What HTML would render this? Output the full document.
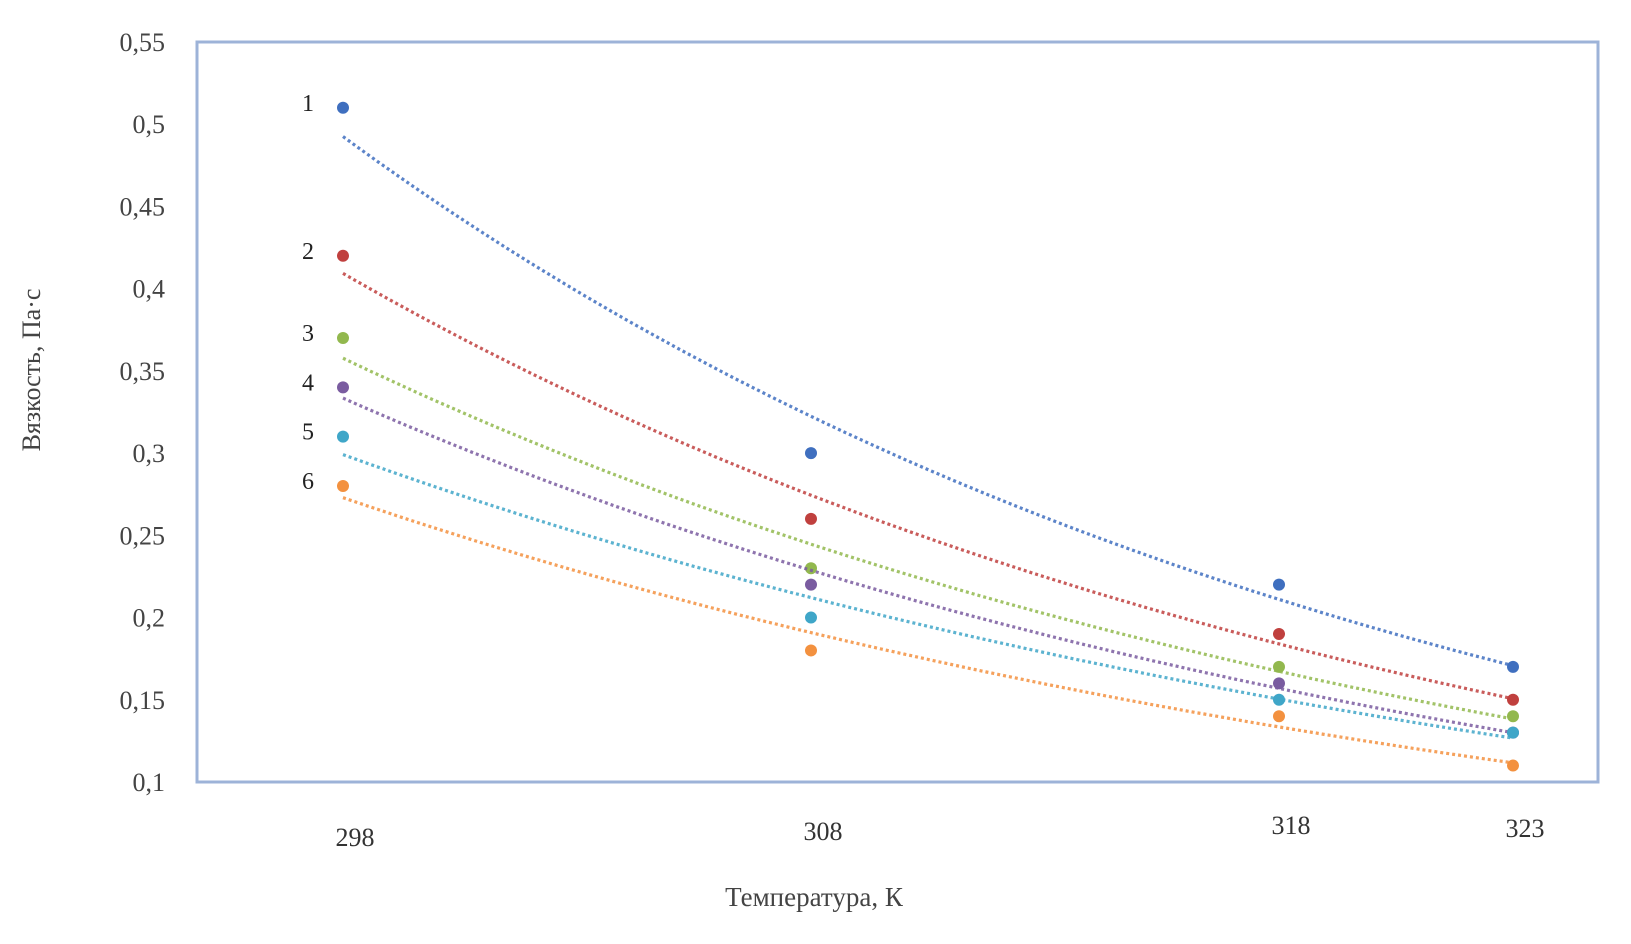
<!DOCTYPE html>
<html><head><meta charset="utf-8">
<style>
html,body{margin:0;padding:0;background:#fff;}
svg{display:block;font-family:"Liberation Serif",serif;}
</style></head>
<body>
<svg id="chart" width="1631" height="944" viewBox="0 0 1631 944">
<rect x="197" y="42" width="1401" height="740" fill="#fff" stroke="#9db3d8" stroke-width="3"/>
<g id="yticks"></g>
<g id="xticks"></g>
<g id="series"></g>
<text x="814" y="906" font-size="27" text-anchor="middle" fill="#444">Температура, К</text>
<text transform="translate(40,370) rotate(-90)" font-size="26" text-anchor="middle" fill="#444">Вязкость, Па·с</text>
</svg>
<script>
const temps = [298, 308, 318, 323];
const xLabels = ['298', '308', '318', '323'];
const yTicks = [0.1, 0.15, 0.2, 0.25, 0.3, 0.35, 0.4, 0.45, 0.5, 0.55];
const yTickLabels = ['0,1', '0,15', '0,2', '0,25', '0,3', '0,35', '0,4', '0,45', '0,5', '0,55'];
const seriesNames = ['1', '2', '3', '4', '5', '6'];
const s1 = [0.51, 0.30, 0.22, 0.17];
const s2 = [0.42, 0.26, 0.19, 0.15];
const s3 = [0.37, 0.23, 0.17, 0.14];
const s4 = [0.34, 0.22, 0.16, 0.13];
const s5 = [0.31, 0.20, 0.15, 0.13];
const s6 = [0.28, 0.18, 0.14, 0.11];
const allSeries = [s1, s2, s3, s4, s5, s6];
const colors = ['#3f6fbf', '#c0403e', '#92b84e', '#7a5ca0', '#3fa6c8', '#f3913f'];

const NS = 'http://www.w3.org/2000/svg';
function xScale(t){ return 343 + (t - 298) * 46.8; }
function yScale(v){ return 782 - (v - 0.1) / 0.45 * 740; }
function mk(tag, attrs, parent){ const e = document.createElementNS(NS, tag); for (const k in attrs) e.setAttribute(k, attrs[k]); parent.appendChild(e); return e; }

const yg = document.getElementById('yticks');
yTicks.forEach((v, i) => {
  const t = mk('text', {x: 165, y: yScale(v) + 9, 'font-size': 26, 'text-anchor': 'end', fill: '#444'}, yg);
  
  
  t.textContent = yTickLabels[i];
});
const xg = document.getElementById('xticks');
const xLabelY = [846, 840, 834, 837];
temps.forEach((t, i) => {
  const e = mk('text', {x: xScale(t) + 12, y: xLabelY[i], 'font-size': 26, 'text-anchor': 'middle', fill: '#333'}, xg);
  
  
  e.textContent = xLabels[i];
});

const sg = document.getElementById('series');
allSeries.forEach((vals, si) => {
  const g = mk('g', {}, sg);
  
  
  const n = temps.length;
  let sx = 0, sy = 0, sxx = 0, sxy = 0;
  temps.forEach((t, i) => { const ly = Math.log(vals[i]); sx += t; sy += ly; sxx += t * t; sxy += t * ly; });
  const b = (n * sxy - sx * sy) / (n * sxx - sx * sx);
  const a = (sy - b * sx) / n;
  let d = '';
  for (let T = temps[0]; T <= temps[n - 1] + 0.001; T += 0.25) {
    d += (d ? 'L' : 'M') + xScale(T).toFixed(1) + ',' + yScale(Math.exp(a + b * T)).toFixed(1);
  }
  const p = mk('path', {d: d, fill: 'none', stroke: colors[si], 'stroke-width': 3.2, 'stroke-dasharray': '3 3', opacity: 0.85}, g);
  
  
  vals.forEach((v, i) => {
    const c = mk('circle', {cx: xScale(temps[i]), cy: yScale(v), r: 6, fill: colors[si]}, g);
    
    
  });
  const lb = mk('text', {x: 308, y: yScale(vals[0]) + 3, 'font-size': 24, 'text-anchor': 'middle', fill: '#222'}, g);
  
  
  lb.textContent = seriesNames[si];
});
</script>
</body></html>
